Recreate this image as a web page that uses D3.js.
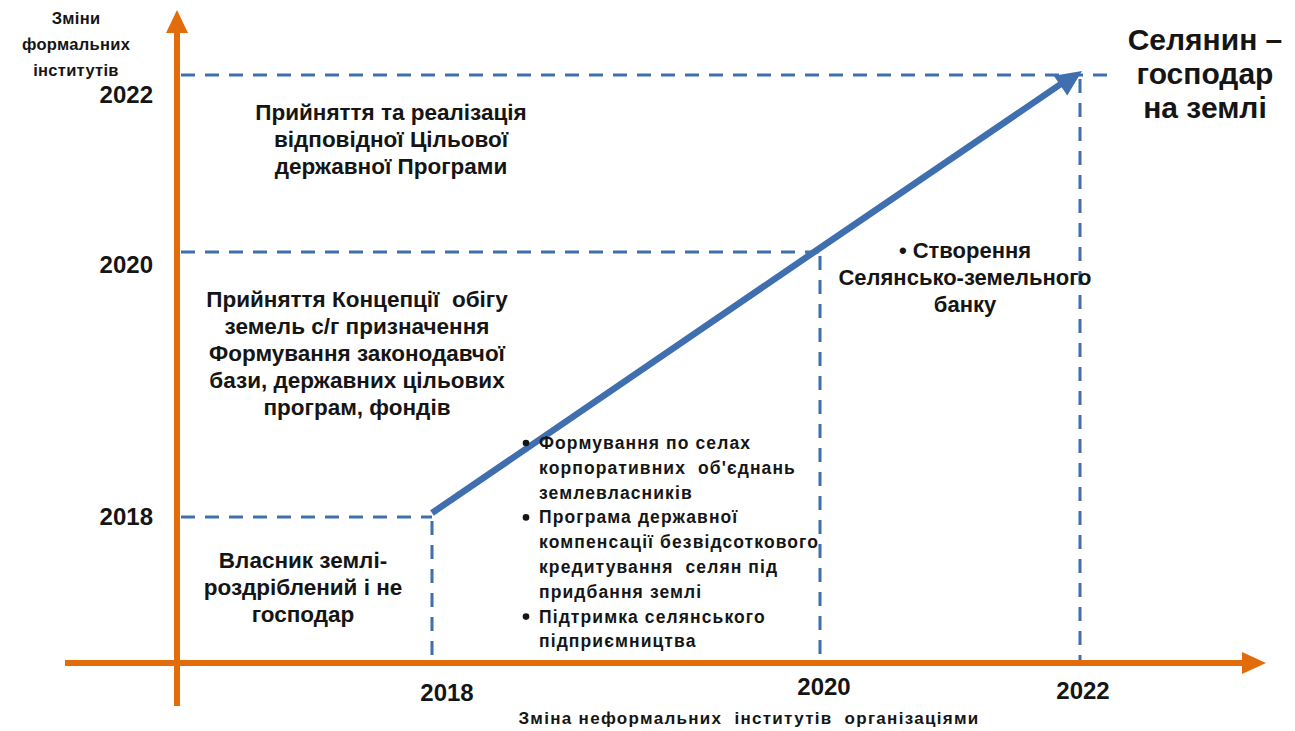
<!DOCTYPE html>
<html>
<head>
<meta charset="utf-8">
<script src="https://cdn.jsdelivr.net/npm/d3@7"></script>
<style>
  html, body { margin: 0; padding: 0; background: #fff; }
  svg text { font-family: "Liberation Sans", Arial, sans-serif; font-weight: bold; fill: #151515; }
</style>
</head>
<body>
<svg id="chart" width="1295" height="731"></svg>
<script>
// years on both axes
const years = [2018, 2020, 2022];
const xTickLabels = ['2018', '2020', '2022'];
const yTickLabels = ['2018', '2020', '2022'];

// path of the main arrow (formal change, informal change)
const progress = [
  { x: 2018, y: 2018 },
  { x: 2020, y: 2020 },
  { x: 2022, y: 2022 },
];

const yAxisTitle = ['Зміни', 'формальних', 'інститутів'];
const xAxisTitle = 'Зміна неформальних  інститутів  організаціями';
const goalText = ['Селянин –', 'господар', 'на землі'];

const blockTop = ['Прийняття та реалізація', 'відповідної Цільової', 'державної Програми'];
const blockMid = ['Прийняття Концепції  обігу', 'земель с/г призначення', 'Формування законодавчої', 'бази, державних цільових', 'програм, фондів'];
const blockLow = ['Власник землі-', 'роздріблений і не', 'господар'];
const bankText = ['• Створення', 'Селянсько-земельного', 'банку'];
const measures = [
  ['Формування по селах', 'корпоративних  об\'єднань', 'землевласників'],
  ['Програма державної', 'компенсації безвідсоткового', 'кредитування  селян під', 'придбання землі'],
  ['Підтримка селянського', 'підприємництва'],
];

const svg = d3.select('#chart');
const orange = '#e36c0a';
const blue = '#3f6fae';

// piecewise scales, the original is not evenly spaced
const x = d3.scaleLinear().domain(years).range([432, 820, 1080]);
const y = d3.scaleLinear().domain(years).range([517, 252, 75]);
const originX = 177;
const originY = 663;

// dashed guide lines for each year
const guides = svg.append('g')
  .attr('stroke', blue)
  .attr('stroke-width', 3)
  .attr('stroke-dasharray', '14,10')
  .attr('fill', 'none');

years.forEach((yr) => {
  const xEnd = yr === 2022 ? x(yr) + 32 : x(yr);
  guides.append('line')
    .attr('x1', originX + 4).attr('x2', xEnd)
    .attr('y1', y(yr)).attr('y2', y(yr));
  guides.append('line')
    .attr('x1', x(yr)).attr('x2', x(yr))
    .attr('y1', y(yr) + 4).attr('y2', originY - 2);
});

// orange axes with arrow heads
const axes = svg.append('g');
axes.append('line')
  .attr('x1', originX).attr('x2', originX)
  .attr('y1', 706).attr('y2', 30)
  .attr('stroke', orange).attr('stroke-width', 6);
axes.append('path')
  .attr('d', `M${originX},10 L${originX - 11},33 L${originX + 11},33 Z`)
  .attr('fill', orange);
axes.append('line')
  .attr('x1', 65).attr('x2', 1245)
  .attr('y1', originY).attr('y2', originY)
  .attr('stroke', orange).attr('stroke-width', 6);
axes.append('path')
  .attr('d', `M1266,${originY} L1242,${originY - 11} L1242,${originY + 11} Z`)
  .attr('fill', orange);

// main blue arrow
const first = progress[0];
const last = progress[progress.length - 1];
const ang = Math.atan2(y(last.y) - y(first.y), x(last.x) - x(first.x));
const headLen = 26;
const tipX = x(last.x) + 2;
const tipY = y(last.y) - 4;
const lineGen = d3.line().x((d) => x(d.x)).y((d) => y(d.y) - 4);
svg.append('path')
  .datum(progress)
  .attr('d', lineGen)
  .attr('stroke', blue)
  .attr('stroke-width', 6.5)
  .attr('fill', 'none')
  .attr('stroke-dasharray', `${Math.hypot(tipX - x(first.x), tipY - y(first.y)) - headLen + 4},2000`);
const bx = tipX - headLen * Math.cos(ang);
const by = tipY - headLen * Math.sin(ang);
const nx = -Math.sin(ang) * 12;
const ny = Math.cos(ang) * 12;
svg.append('path')
  .attr('d', `M${tipX},${tipY} L${bx + nx},${by + ny} L${bx - nx},${by - ny} Z`)
  .attr('fill', blue);

// tick labels
const yNudge = { 2018: 8, 2020: 21, 2022: 28 };
svg.append('g').selectAll('text')
  .data(years)
  .join('text')
  .attr('x', 153)
  .attr('y', (d) => y(d) + yNudge[d])
  .attr('text-anchor', 'end')
  .attr('font-size', 24)
  .text((d, i) => yTickLabels[i]);

const xNudge = { 2018: [15, 38], 2020: [4, 32], 2022: [3, 36] };
svg.append('g').selectAll('text')
  .data(years)
  .join('text')
  .attr('x', (d) => x(d) + xNudge[d][0])
  .attr('y', (d) => originY + xNudge[d][1])
  .attr('text-anchor', 'middle')
  .attr('font-size', 24)
  .text((d, i) => xTickLabels[i]);

// multi-line text helper
function block(lines, cx, top, size, gap, anchor = 'middle', spacing = 0) {
  const t = svg.append('text')
    .attr('font-size', size)
    .attr('text-anchor', anchor)
    .attr('letter-spacing', spacing)
    .style('white-space', 'pre');
  lines.forEach((ln, i) => {
    t.append('tspan').attr('x', cx).attr('y', top + i * gap).text(ln);
  });
  return t;
}

block(yAxisTitle, 76, 24, 16.5, 26, 'middle', 0.3);
svg.append('text')
  .attr('x', 749).attr('y', 724)
  .attr('text-anchor', 'middle')
  .attr('font-size', 17)
  .attr('letter-spacing', 1.3)
  .style('white-space', 'pre')
  .text(xAxisTitle);

block(goalText, 1205, 50, 30, 34);
block(blockTop, 391, 120, 22.5, 27);
block(blockMid, 357, 307, 22.5, 27);
block(blockLow, 303, 568, 22.5, 27);
block(bankText, 965, 258, 22, 27);

// bullets under the arrow
let row = 0;
const bulletTop = 449;
measures.forEach((item) => {
  svg.append('circle')
    .attr('cx', 526).attr('cy', bulletTop + row * 24.8 - 6)
    .attr('r', 3.3).attr('fill', '#151515');
  block(item, 539, bulletTop + row * 24.8, 17.5, 24.8, 'start', 1.1);
  row += item.length;
});
</script>
</body>
</html>
